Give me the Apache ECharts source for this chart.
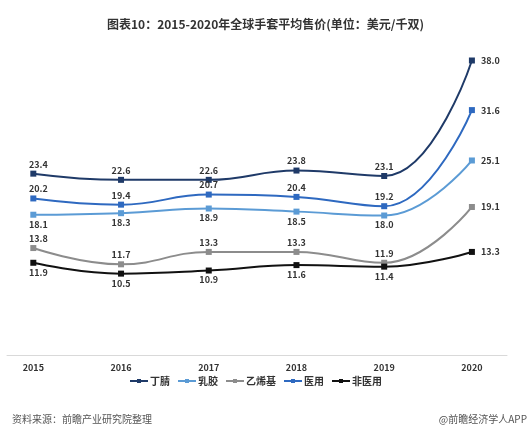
<!DOCTYPE html>
<html>
<head>
<meta charset="utf-8">
<script src="https://cdn.jsdelivr.net/npm/echarts@6/dist/echarts.min.js"></script>
<style>
  html, body { margin: 0; padding: 0; background: #fff; }
  #main { width: 531px; height: 439px; }
</style>
</head>
<body>
<div id="main"></div>
<script>
    var years = [2015, 2016, 2017, 2018, 2019, 2020];
    var dingqing = [23.4, 22.6, 22.6, 23.8, 23.1, 38.0];
    var rujiao = [18.1, 18.3, 18.9, 18.5, 18.0, 25.1];
    var yixiji = [13.8, 11.7, 13.3, 13.3, 11.9, 19.1];
    var yiyong = [20.2, 19.4, 20.7, 20.4, 19.2, 31.6];
    var feiyiyong = [11.9, 10.5, 10.9, 11.6, 11.4, 13.3];

    var myChart = echarts.init(document.getElementById('main'));
    var font = '"Noto Sans CJK SC", "Noto Sans", sans-serif';

    function pairs(vals) {
        return vals.map(function (v, i) { return [years[i], v]; });
    }

    function makeSeries(name, color, vals, pos) {
        return {
            name: name,
            type: 'line',
            smooth: 0.45,
            symbol: 'rect',
            symbolSize: 6,
            lineStyle: { color: color, width: 2 },
            itemStyle: { color: color },
            label: {
                show: true,
                position: pos,
                distance: 2,
                color: '#333',
                fontSize: 9,
                fontWeight: 'bold',
                fontFamily: font,
                formatter: function (p) { return p.value[1].toFixed(1); }
            },
            labelLayout: function (params) {
                // 最后一个点的标签放在右侧
                if (params.dataIndex === years.length - 1) {
                    return {
                        x: params.rect.x + params.rect.width + 6,
                        y: params.rect.y + params.rect.height / 2,
                        align: 'left',
                        verticalAlign: 'middle'
                    };
                }
                if (params.dataIndex === 0) {
                    return { dx: 5 };
                }
                return {};
            },
            data: pairs(vals)
        };
    }

    myChart.setOption({
        backgroundColor: '#fff',
        animation: false,
        title: {
            text: '图表10：2015-2020年全球手套平均售价(单位：美元/千双)',
            left: 'center',
            top: 13,
            textStyle: { color: '#333', fontSize: 12, fontWeight: 'bold', fontFamily: font }
        },
        legend: {
            bottom: 48,
            left: 124,
            itemWidth: 18,
            itemHeight: 5,
            itemGap: 7,
            textStyle: { color: '#333', fontSize: 10, fontWeight: 'bold', fontFamily: font, padding: [0, 0, 0, -3] },
            data: ['丁腈', '乳胶', '乙烯基', '医用', '非医用']
        },
        grid: { left: 7, right: 24, top: 45, bottom: 84 },
        xAxis: {
            type: 'value',
            min: 2014.7,
            max: 2020.4,
            splitLine: { show: false },
            axisLine: { show: true, lineStyle: { color: '#d9d9d9' } },
            axisTick: { show: false },
            axisLabel: {
                customValues: years,
                color: '#333',
                fontSize: 9,
                fontWeight: 'bold',
                fontFamily: font,
                margin: 8,
                formatter: function (v) { return String(v); }
            }
        },
        yAxis: {
            type: 'value',
            min: 0,
            max: 40,
            show: false,
            splitLine: { show: false }
        },
        graphic: [
            {
                type: 'text',
                left: 12,
                top: 414,
                style: { text: '资料来源：前瞻产业研究院整理', fill: '#555', fontSize: 10, fontFamily: font }
            },
            {
                type: 'text',
                right: 4,
                top: 414,
                style: { text: '@前瞻经济学人APP', fill: '#555', fontSize: 10, fontFamily: font }
            }
        ],
        series: [
            makeSeries('丁腈', '#1f3a68', dingqing, 'top'),
            makeSeries('乳胶', '#5b9bd5', rujiao, 'bottom'),
            makeSeries('乙烯基', '#8c8c8c', yixiji, 'top'),
            makeSeries('医用', '#2e69c0', yiyong, 'top'),
            makeSeries('非医用', '#111111', feiyiyong, 'bottom')
        ]
    });
</script>
</body>
</html>
